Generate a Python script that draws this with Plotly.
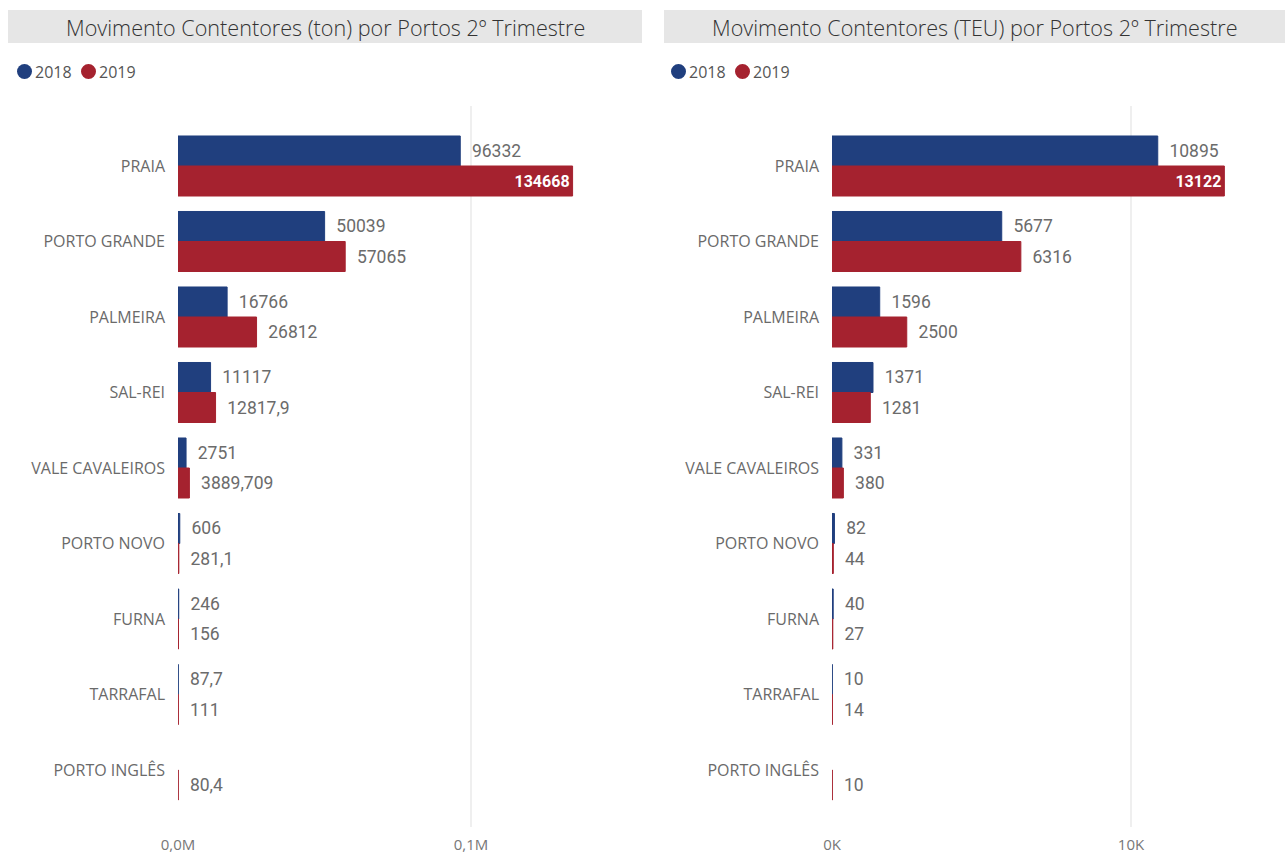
import plotly.graph_objects as go

W, H = 1287, 854

ports = ["PRAIA", "PORTO GRANDE", "PALMEIRA", "SAL-REI", "VALE CAVALEIROS",
         "PORTO NOVO", "FURNA", "TARRAFAL", "PORTO INGLÊS"]
ton_2018 = [96332, 50039, 16766, 11117, 2751, 606, 246, 87.7, None]
ton_2019 = [134668, 57065, 26812, 12817.9, 3889.709, 281.1, 156, 111, 80.4]
teu_2018 = [10895, 5677, 1596, 1371, 331, 82, 40, 10, None]
teu_2019 = [13122, 6316, 2500, 1281, 380, 44, 27, 14, 10]
years = ["2018", "2019"]
titles = ["Movimento Contentores (ton) por Portos 2º Trimestre",
          "Movimento Contentores (TEU) por Portos 2º Trimestre"]
ton_ticks = [0, 100000]
ton_ticktext = ["0,0M", "0,1M"]
teu_ticks = [0, 10000]
teu_ticktext = ["0K", "10K"]

BLUE = "#203f7e"
RED = "#a5222f"
LABEL = "#6b6b6b"
FONT = "Open Sans"
NUMFONT = "Roboto"


def fmt(v):
    if v is None:
        return ""
    if float(v).is_integer():
        return str(int(v))
    return str(v).replace(".", ",")


def px(x):
    return x / W


def py(y):
    return 1 - y / H


fig = go.Figure()


def add_bars(values, color, name, xa, ya, inside_max):
    vmax = max(v for v in values if v is not None)
    texts, positions, colors, sizes = [], [], [], []
    for v in values:
        if v is not None and v == vmax and inside_max:
            texts.append("<b>" + fmt(v) + "</b>")
            positions.append("inside")
            colors.append("white")
            sizes.append(16)
        else:
            texts.append("\u00a0\u00a0" + fmt(v))
            positions.append("outside")
            colors.append(LABEL)
            sizes.append(17.5)
    fig.add_trace(go.Bar(
        y=ports, x=values, orientation="h", name=name,
        marker=dict(color=color, line=dict(color=color, width=1)),
        text=texts, textposition=positions,
        insidetextanchor="end",
        textfont=dict(family=NUMFONT, size=sizes, color=colors),
        cliponaxis=False, showlegend=False,
        xaxis=xa, yaxis=ya,
    ))


add_bars(ton_2018, BLUE, years[0], "x", "y", False)
add_bars(ton_2019, RED, years[1], "x", "y", True)
add_bars(teu_2018, BLUE, years[0], "x2", "y2", False)
add_bars(teu_2019, RED, years[1], "x2", "y2", True)

# plot area spans y 106..827 px; category centres at 166 + 75.5*i
ytop, ybot, c0, step = 106, 827, 166, 75.5
yrange = [(ybot - c0) / step, (ytop - c0) / step]
ydom = [py(ybot), py(ytop)]
common_y = dict(
    categoryorder="array", categoryarray=ports, range=yrange,
    showgrid=False, zeroline=False, showline=False, ticks="",
    tickfont=dict(family=FONT, size=16, color="#6a6a6a"),
    ticklabelstandoff=12, domain=ydom, automargin=False,
)
common_x = dict(
    showgrid=True, gridcolor="#efefef", gridwidth=1.5, zeroline=False,
    showline=False, ticks="",
    tickfont=dict(family=FONT, size=15, color="#777777"),
    ticklabelstandoff=7, automargin=False,
)

fig.update_layout(
    width=W, height=H,
    margin=dict(l=0, r=0, t=0, b=0, autoexpand=False),
    paper_bgcolor="white", plot_bgcolor="white",
    barmode="group", bargap=0.205, bargroupgap=0,
    xaxis=dict(common_x, domain=[px(178), px(642)],
               range=[0, (642 - 178) / 293 * 100000],
               tickvals=ton_ticks, ticktext=ton_ticktext, anchor="y"),
    yaxis=dict(common_y, anchor="x"),
    xaxis2=dict(common_x, domain=[px(832), px(1285)],
                range=[0, (1285 - 832) / 299 * 10000],
                tickvals=teu_ticks, ticktext=teu_ticktext, anchor="y2"),
    yaxis2=dict(common_y, anchor="x2"),
    showlegend=False,
)

shapes = []
annotations = []
panels = [(8, 642, 17), (664, 1285, 671)]
for (x0, x1, lx), title in zip(panels, titles):
    shapes.append(dict(type="rect", xref="paper", yref="paper",
                       x0=px(x0), x1=px(x1), y0=py(43), y1=py(10),
                       fillcolor="#e6e6e6", line=dict(width=0), layer="below"))
    annotations.append(dict(xref="paper", yref="paper", x=px((x0 + x1) / 2),
                            y=py(27), text=title, showarrow=False,
                            xanchor="center", yanchor="middle",
                            font=dict(family=FONT, size=21.6, color="#333333",
                                      weight=300)))
    for i, (yr, col) in enumerate(zip(years, [BLUE, RED])):
        cx = lx + i * 64
        shapes.append(dict(type="circle", xref="paper", yref="paper",
                           x0=px(cx), x1=px(cx + 15), y0=py(79), y1=py(64),
                           fillcolor=col, line=dict(width=0)))
        annotations.append(dict(xref="paper", yref="paper", x=px(cx + 16),
                                y=py(72), text=yr, showarrow=False,
                                xanchor="left", yanchor="middle",
                                font=dict(family=FONT, size=16, color="#555555")))

fig.update_layout(shapes=shapes, annotations=annotations)

fig.write_html("out.html",
               config={"displayModeBar": False},
               post_script="document.body.style.margin='0px';"
                           "document.body.style.overflow='hidden';")
